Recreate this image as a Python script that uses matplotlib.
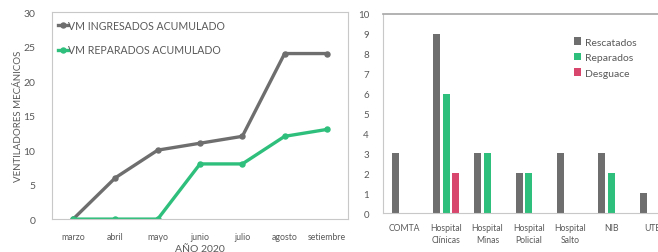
import matplotlib
matplotlib.use("Agg")
import numpy as np
import matplotlib.pyplot as plt

plt.rcParams['font.family'] = ['Lato', 'DejaVu Sans']

# --- datos panel izquierdo ---
meses = ["marzo", "abril", "mayo", "junio", "julio", "agosto", "setiembre"]
vm_ingresados = [0, 6, 10, 11, 12, 24, 24]
vm_reparados = [0, 0, 0, 8, 8, 12, 13]

# --- datos panel derecho ---
centros = ["COMTA", "Hospital\nClínicas", "Hospital\nMinas", "Hospital\nPolicial",
           "Hospital\nSalto", "NIB", "UTE"]
rescatados = [3, 9, 3, 2, 3, 3, 1]
reparados = [0, 6, 3, 2, 0, 2, 0]
desguace = [0, 2, 0, 0, 0, 0, 0]

GRIS = "#6e6e6e"
VERDE = "#2fbf7c"
ROSA = "#d8466e"
TXT = "#595959"
BORDE = "#c8c8c8"

fig = plt.figure(figsize=(6.58, 2.53), dpi=100)

# ---------- panel izquierdo ----------
ax1 = fig.add_axes([0.079, 0.130, 0.450, 0.818])
x = np.arange(len(meses))
ax1.plot(x, vm_ingresados, color=GRIS, lw=2.4, marker='o', ms=3.6, label="VM INGRESADOS ACUMULADO")
ax1.plot(x, vm_reparados, color=VERDE, lw=2.4, marker='o', ms=3.6, label="VM REPARADOS ACUMULADO")
ax1.set_xlim(-0.5, len(meses) - 0.5)
ax1.set_ylim(0, 30)
ax1.set_yticks(range(0, 31, 5))
ax1.set_xticks(x)
ax1.set_xticklabels(meses, fontsize=6.3, color=TXT)
ax1.tick_params(axis='y', labelsize=7.5, colors=TXT, length=0, pad=12)
ax1.tick_params(axis='x', length=0, pad=9)
for s in ax1.spines.values():
    s.set_color(BORDE)
    s.set_linewidth(0.8)
ax1.set_ylabel("VENTILADORES MECÁNICOS", fontsize=7, color=TXT, labelpad=0.5)
ax1.set_xlabel("AÑO 2020", fontsize=7.5, color=TXT, labelpad=2.5)
ax1.legend(loc='upper left', bbox_to_anchor=(-0.005, 1.0), frameon=False, fontsize=7.6,
           handlelength=1.0, handletextpad=0.0, labelspacing=1.3, labelcolor=TXT,
           borderaxespad=0.3)

# ---------- panel derecho ----------
ax2 = fig.add_axes([0.582, 0.154, 0.418, 0.787])
xc = np.arange(len(centros))
w = 0.17
d = 0.23
ax2.bar(xc - d, rescatados, w, color=GRIS, label="Rescatados")
ax2.bar(xc, reparados, w, color=VERDE, label="Reparados")
ax2.bar(xc + d, desguace, w, color=ROSA, label="Desguace")
ax2.set_xlim(-0.53, 6.13)
ax2.set_ylim(0, 10)
ax2.set_yticks(range(0, 11))
ax2.set_xticks(xc)
ax2.set_xticklabels(centros, fontsize=6.2, color=TXT, linespacing=1.4)
ax2.tick_params(axis='y', labelsize=7, colors=TXT, length=0, pad=10)
ax2.tick_params(axis='x', length=0, pad=7)
for s in ax2.spines.values():
    s.set_color(BORDE)
    s.set_linewidth(0.8)
ax2.spines['top'].set_color("#a6a6a6")
ax2.spines['top'].set_linewidth(1.2)
ax2.spines['right'].set_visible(False)
ax2.legend(loc='upper left', bbox_to_anchor=(0.66, 0.93), frameon=False, fontsize=7.5,
           handlelength=0.7, handleheight=0.7, handletextpad=0.4, labelspacing=0.6,
           labelcolor=TXT)

fig.savefig("out.png", dpi=100)
